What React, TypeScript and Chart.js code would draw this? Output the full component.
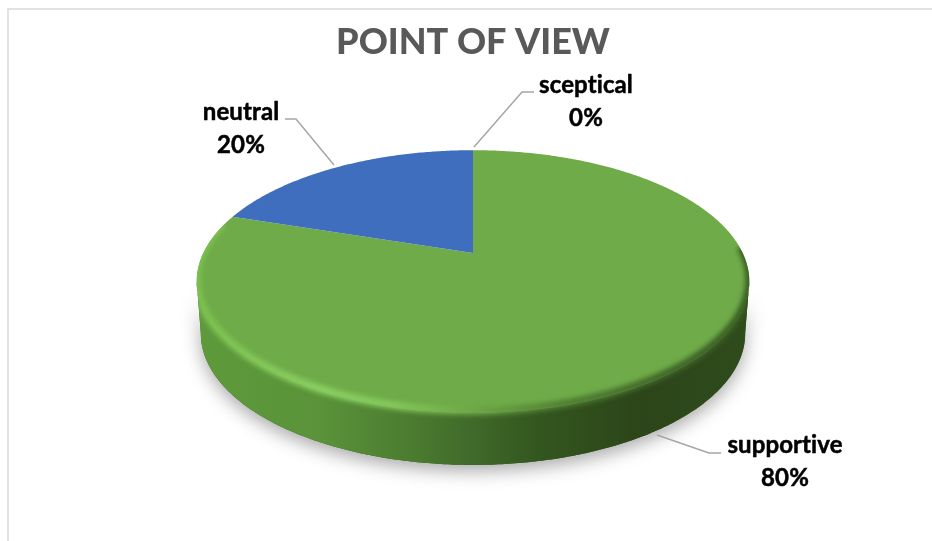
import React, { useEffect, useRef } from "react";
import { Chart, registerables } from "chart.js";

Chart.register(...registerables);

const categories = ["supportive", "neutral", "sceptical"];
const shares = [80, 20, 0];
const sliceColors = ["#6fac49", "#3f6ebe", "#a5a5a5"];
const chartTitle = "POINT OF VIEW";

// Tilted-disc projection: ratios are relative to the pie's outer radius.
const TILT = -0.2167;
const WIDTH_RATIO = 1.687;
const HEIGHT_RATIO = 0.783;
const DISC_DEPTH = 52;
const BASE_SHRINK = 0.985;
const FONT = "Lato, Carlito, 'Open Sans', sans-serif";

type Pt = [number, number];

function project(arc: any, angle: number): Pt {
  const d = 1 + TILT * Math.sin(angle);
  return [
    arc.x + (WIDTH_RATIO * arc.outerRadius * Math.cos(angle)) / d,
    arc.y + (HEIGHT_RATIO * arc.outerRadius * Math.sin(angle)) / d,
  ];
}

function sweep(arc: any, from: number, to: number): Pt[] {
  const n = Math.max(2, Math.ceil(Math.abs(to - from) / 0.01));
  const pts: Pt[] = [];
  for (let i = 0; i <= n; i++) pts.push(project(arc, from + ((to - from) * i) / n));
  return pts;
}

function trace(ctx: CanvasRenderingContext2D, pts: Pt[], start = true) {
  pts.forEach(([x, y], i) => (i === 0 && start ? ctx.moveTo(x, y) : ctx.lineTo(x, y)));
}

const frontStart = Math.asin(-TILT);
const frontEnd = Math.PI - frontStart;

function lowerEdge(arc: any, from: number, to: number): Pt[] {
  return sweep(arc, from, to).map(([x, y]): Pt => [arc.x + (x - arc.x) * BASE_SHRINK, y + DISC_DEPTH]);
}

function wallPath(ctx: CanvasRenderingContext2D, arc: any, from: number, to: number) {
  ctx.beginPath();
  trace(ctx, sweep(arc, from, to));
  trace(ctx, lowerEdge(arc, from, to).reverse(), false);
  ctx.closePath();
}

function horizontalGradient(ctx: CanvasRenderingContext2D, x0: number, x1: number, stops: [number, string][]) {
  const g = ctx.createLinearGradient(x0, 0, x1, 0);
  stops.forEach(([p, c]) => g.addColorStop(p, c));
  return g;
}

// Replaces the flat arc drawing with an extruded, tilted disc that still
// takes each slice's angles from the pie controller.
const tiltedDisc = {
  id: "tiltedDisc",
  beforeDatasetsDraw(chart: any) {
    const ctx: CanvasRenderingContext2D = chart.ctx;
    const arcs = chart.getDatasetMeta(0).data.filter((a: any) => a.endAngle > a.startAngle);
    const first = arcs[0];
    const left = project(first, frontEnd)[0];
    const right = project(first, frontStart)[0];

    // soft ground shadow
    ctx.save();
    ctx.shadowColor = "rgba(0,0,0,0.34)";
    ctx.shadowBlur = 18;
    ctx.shadowOffsetY = 6;
    ctx.fillStyle = "#3a5c22";
    wallPath(ctx, first, frontStart, frontEnd);
    ctx.fill();
    ctx.restore();

    // side wall
    ctx.save();
    ctx.fillStyle = horizontalGradient(ctx, left, right, [
      [0, "#5e9a3c"],
      [0.22, "#5a9339"],
      [0.4, "#4a7a2f"],
      [0.5, "#40692a"],
      [0.62, "#33561f"],
      [0.8, "#2c4519"],
      [0.95, "#2e4a1b"],
      [1, "#2f4c1c"],
    ]);
    wallPath(ctx, first, frontStart, frontEnd);
    ctx.fill();
    ctx.restore();

    // top faces
    for (const arc of arcs) {
      ctx.beginPath();
      ctx.moveTo(arc.x, arc.y);
      trace(ctx, sweep(arc, arc.startAngle, arc.endAngle), false);
      ctx.closePath();
      ctx.fillStyle = arc.options.backgroundColor;
      ctx.fill();
    }

    // bevel along the front rim, kept inside the disc outline
    ctx.save();
    ctx.beginPath();
    trace(ctx, sweep(first, frontEnd, frontStart + Math.PI * 2));
    trace(ctx, lowerEdge(first, frontStart, frontEnd), false);
    ctx.closePath();
    ctx.clip();
    ctx.filter = "blur(2.5px)";
    ctx.lineWidth = 8;
    ctx.lineCap = "butt";
    ctx.strokeStyle = horizontalGradient(ctx, left, right, [
      [0, "#7cc04f"],
      [0.22, "#8bd063"],
      [0.36, "#84c85b"],
      [0.5, "#6ea646"],
      [0.66, "#507e33"],
      [0.85, "#3f6428"],
      [1, "#3a5c23"],
    ]);
    ctx.beginPath();
    trace(
      ctx,
      sweep(first, frontStart - 0.25, frontEnd + 0.45).map(([x, y]): Pt => [x, y - 2]),
    );
    ctx.stroke();
    ctx.restore();

    return false;
  },
};

// Chart frame, leader lines and two-line data labels.
const leaderLines: Pt[][] = [
  [[657, 435], [709, 453], [721, 453]],
  [[334, 165], [296, 119], [285, 119]],
  [[474, 147], [522, 92], [534, 92]],
];
const labelAnchors: Pt[] = [
  [785, 453],
  [241, 120],
  [586, 93],
];

const annotations = {
  id: "annotations",
  beforeDraw(chart: any) {
    const { ctx, width, height } = chart;
    ctx.save();
    ctx.strokeStyle = "#d9d9d9";
    ctx.lineWidth = 1.5;
    ctx.beginPath();
    ctx.moveTo(8, height);
    ctx.lineTo(8, 9);
    ctx.lineTo(width, 9);
    ctx.stroke();
    ctx.restore();
  },
  afterDraw(chart: any) {
    const ctx: CanvasRenderingContext2D = chart.ctx;
    ctx.save();
    ctx.strokeStyle = "#a6a6a6";
    ctx.lineWidth = 1.5;
    leaderLines.forEach((line) => {
      ctx.beginPath();
      trace(ctx, line);
      ctx.stroke();
    });
    ctx.fillStyle = "#000000";
    ctx.strokeStyle = "#000000";
    ctx.lineWidth = 0.5;
    ctx.font = `bold 24px ${FONT}`;
    (ctx as any).letterSpacing = "0.1px";
    ctx.textAlign = "center";
    ctx.textBaseline = "alphabetic";
    categories.forEach((name, i) => {
      const [x, y] = labelAnchors[i];
      const pct = `${shares[i]}%`;
      ctx.fillText(name, x, y);
      ctx.strokeText(name, x, y);
      ctx.fillText(pct, x, y + 33);
      ctx.strokeText(pct, x, y + 33);
    });
    ctx.restore();
  },
};

export default function App() {
  const canvasRef = useRef<HTMLCanvasElement>(null);

  useEffect(() => {
    const chart = new Chart(canvasRef.current!, {
      type: "pie",
      data: {
        labels: categories,
        datasets: [{ data: shares, backgroundColor: sliceColors, borderWidth: 0 }],
      },
      options: {
        responsive: false,
        animation: false,
        layout: { padding: { left: 14, right: 0, top: 21, bottom: 128 } },
        plugins: {
          legend: { display: false },
          tooltip: { enabled: false },
          title: {
            display: true,
            text: chartTitle,
            color: "#595959",
            font: { family: FONT, size: 36, weight: "900", lineHeight: 1.2 },
            padding: { top: 0, bottom: 29 },
          },
        },
      },
      plugins: [tiltedDisc, annotations],
    } as any);
    return () => chart.destroy();
  }, []);

  return (
    <div style={{ position: "absolute", left: 0, top: 0, width: 932, height: 541, overflow: "hidden", background: "#fff" }}>
      <canvas ref={canvasRef} width={932} height={541} style={{ display: "block" }} />
    </div>
  );
}
